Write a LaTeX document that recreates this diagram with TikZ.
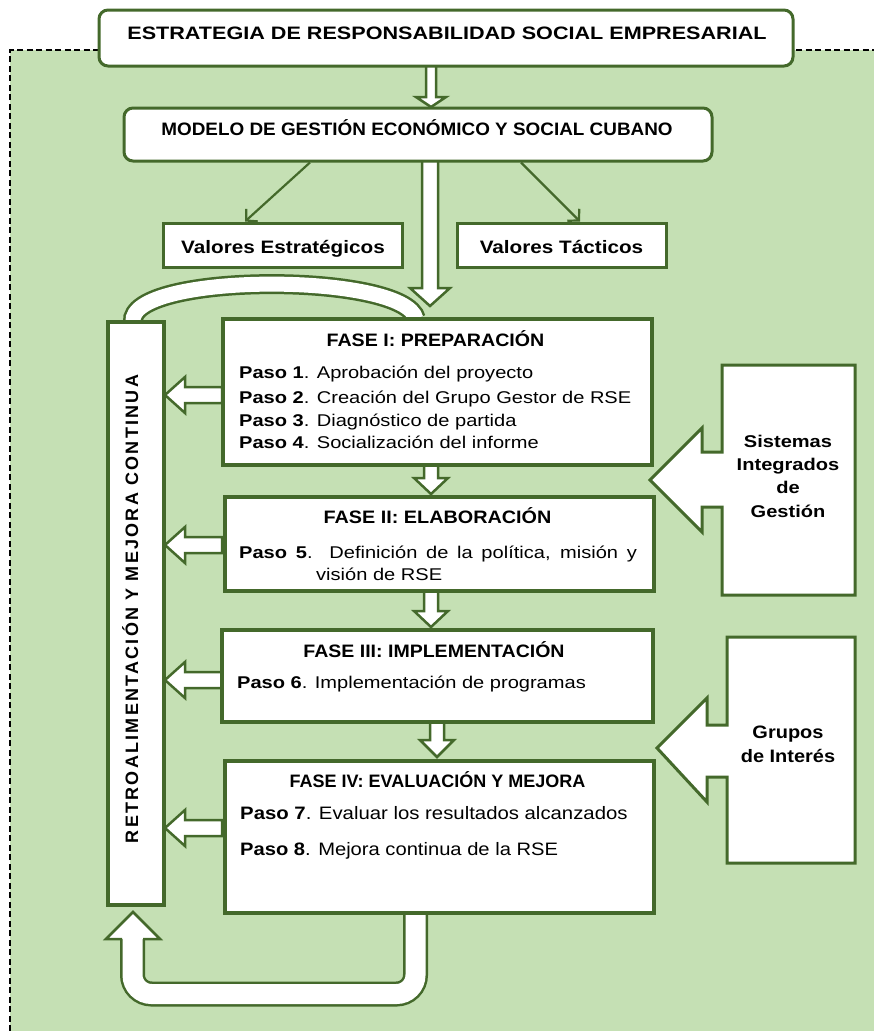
\documentclass[tikz,border=0pt]{standalone}
\usepackage{graphicx}
\usepackage{fontspec}
\setmainfont{Liberation Sans}
\usetikzlibrary{arrows.meta,calc}
\definecolor{bggreen}{HTML}{C5E0B4}
\definecolor{dkgreen}{HTML}{44692B}
\newcommand\HS[2]{\scalebox{#1}[1]{#2}}
\newcommand\FS[1]{\fontsize{#1}{#1}\selectfont}
\newcommand\DArr[6]{\draw[harrow] ({#1-#5},#2) -- ({#1-#5},#3) -- ({#1-#6},#3) -- (#1,#4) -- ({#1+#6},#3) -- ({#1+#5},#3) -- ({#1+#5},#2) -- cycle;}
\newcommand\LArr[1]{\draw[harrow] (222,{#1-8}) -- (185,{#1-8}) -- (185,{#1-18}) -- (165,#1) -- (185,{#1+18}) -- (185,{#1+8}) -- (222,{#1+8}) -- cycle;}
\begin{document}
\begin{tikzpicture}[x=1pt,y=-1pt,
  rbox/.style={draw=dkgreen,line width=3pt,fill=white,rounded corners=9pt,inner sep=0pt},
  sbox/.style={draw=dkgreen,line width=3.5pt,fill=white,inner sep=0pt,anchor=north west},
  harrow/.style={draw=dkgreen,line width=2.5pt,fill=white,line join=miter},
  thinarr/.style={draw=dkgreen,line width=2.2pt,-{Straight Barb[length=8pt,width=17pt,line width=2.2pt]}},
  txt/.style={inner sep=0pt,anchor=base,text=black},
  ptxt/.style={inner sep=0pt,anchor=base west,text=black}]
\useasboundingbox (0,0) rectangle (874,1031);
\fill[bggreen] (10,50) rectangle (874,1031);
\draw[black,line width=1.8pt,dash pattern=on 6pt off 3.5pt] (10,1031) -- (10,50) -- (874,50);

% curved band from Fase I to feedback box
\draw[double=white,double distance=15pt,line width=2.5pt,draw=dkgreen] (133,322) .. controls (128,272) and (405,272) .. (416,319);

% hollow down arrows
\DArr{431}{64}{97}{107}{5}{15}
\DArr{430}{160}{288}{306}{8}{20}
\DArr{431}{462}{478}{494}{7}{17}
\DArr{431}{588}{611}{627}{7}{17}
\DArr{437}{719}{740}{757}{7}{17}
% hollow left arrows
\LArr{395}
\LArr{545}
\LArr{680}
\LArr{828}

% U-shaped feedback arrow
\draw[double=white,double distance=20pt,line width=2.5pt,draw=dkgreen,rounded corners=19pt] (415.5,906) -- (415.5,994) -- (132.5,994) -- (132.5,939);
\fill[white] (106,939) -- (133,912) -- (160,939) -- cycle;
\draw[dkgreen,line width=2.5pt,line join=miter] (122,939) -- (106,939) -- (133,912) -- (160,939) -- (143,939);

% boxes
\node[rbox,minimum width=694,minimum height=56] (top) at (446,38) {};
\node[rbox,minimum width=588,minimum height=53] (model) at (418,134.5) {};
\node[draw=dkgreen,line width=3pt,fill=white,inner sep=0pt,minimum width=239,minimum height=44] (ve) at (282.5,245) {};
\node[draw=dkgreen,line width=3pt,fill=white,inner sep=0pt,minimum width=209,minimum height=44] (vt) at (561.5,245) {};
\node[sbox,minimum width=56,minimum height=583] (retro) at (106,320) {};
\node[sbox,minimum width=429,minimum height=146] (f1) at (221,317) {};
\node[sbox,minimum width=429,minimum height=94] (f2) at (223,495) {};
\node[sbox,minimum width=431,minimum height=92] (f3) at (220,628) {};
\node[sbox,minimum width=429,minimum height=152] (f4) at (223,759) {};

% green thin arrows
\draw[thinarr] ($(model.south)+(-108,0)$) -- ($(ve.north)+(-37.5,0)$);
\draw[thinarr] ($(model.south)+(103,0)$) -- ($(vt.north)+(18.5,0)$);

% callouts on the right
\draw[harrow,line width=3pt] (722,365) -- (855,365) -- (855,595) -- (722,595) -- (722,507) -- (702,507) -- (702,532) -- (650,480) -- (702,428) -- (702,452) -- (722,452) -- cycle;
\draw[harrow,line width=3pt] (727,637) -- (855,637) -- (855,863) -- (727,863) -- (727,777) -- (707,777) -- (707,802) -- (657,748) -- (707,698) -- (707,725) -- (727,725) -- cycle;

% texts
\node[txt] (ttop) at (447,39) {\FS{18}\HS{1.2}{\bfseries ESTRATEGIA DE RESPONSABILIDAD SOCIAL EMPRESARIAL}};
\node[txt] (tmodel) at (417,135) {\FS{18}\HS{1.05}{\bfseries MODELO DE GESTIÓN ECONÓMICO Y SOCIAL CUBANO}};
\node[txt] (tve) at (283,253) {\FS{18}\HS{1.15}{\bfseries Valores Estratégicos}};
\node[txt] (tvt) at (561.5,253) {\FS{18}\HS{1.15}{\bfseries Valores Tácticos}};

\node[txt] (tf1) at (435.5,346) {\FS{18}\HS{1.09}{\bfseries FASE I: PREPARACIÓN}};
\node[ptxt] (p1) at (239,378) {\FS{17}\HS{1.18}{\textbf{Paso 1}. Aprobación del proyecto}};
\node[ptxt] (p2) at (239,403) {\FS{17}\HS{1.18}{\textbf{Paso 2}. Creación del Grupo Gestor de RSE}};
\node[ptxt] (p3) at (239,426) {\FS{17}\HS{1.18}{\textbf{Paso 3}. Diagnóstico de partida}};
\node[ptxt] (p4) at (239,448) {\FS{17}\HS{1.18}{\textbf{Paso 4}. Socialización del informe}};

\node[txt] (tf2) at (437.5,523) {\FS{18}\HS{1.10}{\bfseries FASE II: ELABORACIÓN}};
\node[ptxt] (p5) at (239,558) {\FS{17}\HS{1.18}{\makebox[337pt][s]{\textbf{Paso 5}. Definición de la política, misión y}}};
\node[ptxt] (p5b) at (316,580) {\FS{17}\HS{1.18}{visión de RSE}};

\node[txt] (tf3) at (434,657) {\FS{18}\HS{1.085}{\bfseries FASE III: IMPLEMENTACIÓN}};
\node[ptxt] (p6) at (237,688) {\FS{17}\HS{1.18}{\textbf{Paso 6}. Implementación de programas}};

\node[txt] (tf4) at (437.5,787) {\FS{18}{\bfseries FASE IV: EVALUACIÓN Y MEJORA}};
\node[ptxt] (p7) at (240,819) {\FS{18}\HS{1.13}{\textbf{Paso 7}. Evaluar los resultados alcanzados}};
\node[ptxt] (p8) at (240,855) {\FS{18}\HS{1.12}{\textbf{Paso 8}. Mejora continua de la RSE}};

\node[txt] (s1) at (788,447) {\FS{17}\HS{1.18}{\bfseries Sistemas}};
\node[txt] (s2) at (788,470) {\FS{17}\HS{1.18}{\bfseries Integrados}};
\node[txt] (s3) at (788,493) {\FS{17}\HS{1.18}{\bfseries de}};
\node[txt] (s4) at (788,517) {\FS{17}\HS{1.18}{\bfseries Gestión}};

\node[txt] (g1) at (788,738) {\FS{18}\HS{1.11}{\bfseries Grupos}};
\node[txt] (g2) at (788,762) {\FS{18}\HS{1.11}{\bfseries de Interés}};

\node[txt,rotate=90] (tretro) at (138,609) {\FS{18}\addfontfeature{LetterSpace=12.5}\bfseries RETROALIMENTACIÓN Y MEJORA CONTINUA};
\end{tikzpicture}
\end{document}
